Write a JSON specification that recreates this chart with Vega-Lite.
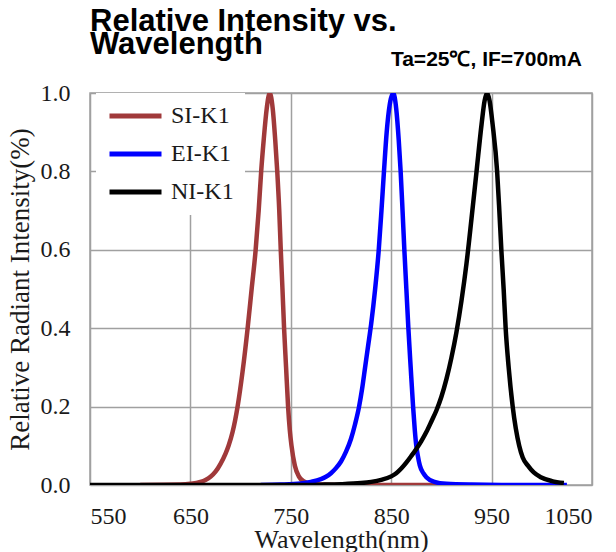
{
  "$schema": "https://vega.github.io/schema/vega-lite/v6.json",
  "width": 502,
  "height": 392,
  "autosize": {"type": "none"},
  "padding": {"left": 90, "top": 93, "right": 24, "bottom": 67},
  "background": "white",
  "title": {
    "text": ["Relative Intensity vs.", "Wavelength"],
    "font": "Liberation Sans",
    "fontSize": 31,
    "fontWeight": "bold",
    "color": "black",
    "anchor": "start",
    "frame": "group",
    "lineHeight": 23,
    "offset": -12
  },
  "config": {
    "view": {"stroke": "#a0a0a0", "strokeWidth": 1.5},
    "axis": {"gridColor": "#a0a0a0", "gridWidth": 1.5, "gridOpacity": 1}
  },
  "layer": [
    {
      "data": {
        "values": [
          {"series": "SI-K1", "wl": 600, "v": 0},
          {"series": "SI-K1", "wl": 640, "v": 0.001},
          {"series": "SI-K1", "wl": 650, "v": 0.003},
          {"series": "SI-K1", "wl": 660, "v": 0.008},
          {"series": "SI-K1", "wl": 665, "v": 0.013},
          {"series": "SI-K1", "wl": 670, "v": 0.021},
          {"series": "SI-K1", "wl": 675, "v": 0.034},
          {"series": "SI-K1", "wl": 680, "v": 0.054},
          {"series": "SI-K1", "wl": 685, "v": 0.08},
          {"series": "SI-K1", "wl": 688, "v": 0.1},
          {"series": "SI-K1", "wl": 692, "v": 0.135},
          {"series": "SI-K1", "wl": 697, "v": 0.2},
          {"series": "SI-K1", "wl": 702, "v": 0.29},
          {"series": "SI-K1", "wl": 707, "v": 0.4},
          {"series": "SI-K1", "wl": 711, "v": 0.5},
          {"series": "SI-K1", "wl": 715, "v": 0.6},
          {"series": "SI-K1", "wl": 718, "v": 0.7},
          {"series": "SI-K1", "wl": 720.5, "v": 0.8},
          {"series": "SI-K1", "wl": 723, "v": 0.88},
          {"series": "SI-K1", "wl": 726, "v": 0.96},
          {"series": "SI-K1", "wl": 729, "v": 1.0},
          {"series": "SI-K1", "wl": 732, "v": 0.96},
          {"series": "SI-K1", "wl": 734.5, "v": 0.88},
          {"series": "SI-K1", "wl": 736.5, "v": 0.8},
          {"series": "SI-K1", "wl": 738.5, "v": 0.7},
          {"series": "SI-K1", "wl": 740, "v": 0.6},
          {"series": "SI-K1", "wl": 741.7, "v": 0.5},
          {"series": "SI-K1", "wl": 743.3, "v": 0.4},
          {"series": "SI-K1", "wl": 745.3, "v": 0.3},
          {"series": "SI-K1", "wl": 747.3, "v": 0.2},
          {"series": "SI-K1", "wl": 749, "v": 0.14},
          {"series": "SI-K1", "wl": 750.7, "v": 0.1},
          {"series": "SI-K1", "wl": 754, "v": 0.05},
          {"series": "SI-K1", "wl": 758, "v": 0.022},
          {"series": "SI-K1", "wl": 763, "v": 0.009},
          {"series": "SI-K1", "wl": 770, "v": 0.003},
          {"series": "SI-K1", "wl": 780, "v": 0.001},
          {"series": "SI-K1", "wl": 800, "v": 0},
          {"series": "SI-K1", "wl": 900, "v": 0},
          {"series": "EI-K1", "wl": 720, "v": 0},
          {"series": "EI-K1", "wl": 740, "v": 0.001},
          {"series": "EI-K1", "wl": 760, "v": 0.004},
          {"series": "EI-K1", "wl": 770, "v": 0.008},
          {"series": "EI-K1", "wl": 780, "v": 0.015},
          {"series": "EI-K1", "wl": 785, "v": 0.021},
          {"series": "EI-K1", "wl": 790, "v": 0.03},
          {"series": "EI-K1", "wl": 795, "v": 0.043},
          {"series": "EI-K1", "wl": 800, "v": 0.06},
          {"series": "EI-K1", "wl": 805, "v": 0.085},
          {"series": "EI-K1", "wl": 810, "v": 0.118},
          {"series": "EI-K1", "wl": 814, "v": 0.155},
          {"series": "EI-K1", "wl": 818, "v": 0.2},
          {"series": "EI-K1", "wl": 821, "v": 0.245},
          {"series": "EI-K1", "wl": 824, "v": 0.3},
          {"series": "EI-K1", "wl": 827, "v": 0.355},
          {"series": "EI-K1", "wl": 830, "v": 0.41},
          {"series": "EI-K1", "wl": 834, "v": 0.5},
          {"series": "EI-K1", "wl": 837.6, "v": 0.6},
          {"series": "EI-K1", "wl": 840.3, "v": 0.7},
          {"series": "EI-K1", "wl": 842.8, "v": 0.8},
          {"series": "EI-K1", "wl": 845.5, "v": 0.9},
          {"series": "EI-K1", "wl": 848.5, "v": 0.97},
          {"series": "EI-K1", "wl": 852, "v": 1.0},
          {"series": "EI-K1", "wl": 855, "v": 0.96},
          {"series": "EI-K1", "wl": 857.5, "v": 0.88},
          {"series": "EI-K1", "wl": 859.4, "v": 0.8},
          {"series": "EI-K1", "wl": 861.3, "v": 0.7},
          {"series": "EI-K1", "wl": 863.1, "v": 0.6},
          {"series": "EI-K1", "wl": 865.1, "v": 0.5},
          {"series": "EI-K1", "wl": 867.1, "v": 0.4},
          {"series": "EI-K1", "wl": 869.4, "v": 0.3},
          {"series": "EI-K1", "wl": 871.8, "v": 0.2},
          {"series": "EI-K1", "wl": 873.5, "v": 0.14},
          {"series": "EI-K1", "wl": 875, "v": 0.1},
          {"series": "EI-K1", "wl": 876.5, "v": 0.075},
          {"series": "EI-K1", "wl": 878.5, "v": 0.05},
          {"series": "EI-K1", "wl": 882, "v": 0.03},
          {"series": "EI-K1", "wl": 885, "v": 0.02},
          {"series": "EI-K1", "wl": 893, "v": 0.008},
          {"series": "EI-K1", "wl": 905, "v": 0.003},
          {"series": "EI-K1", "wl": 930, "v": 0.001},
          {"series": "EI-K1", "wl": 960, "v": 0.0003},
          {"series": "EI-K1", "wl": 1025, "v": 0},
          {"series": "NI-K1", "wl": 550, "v": 0},
          {"series": "NI-K1", "wl": 750, "v": 0},
          {"series": "NI-K1", "wl": 780, "v": 0.0008},
          {"series": "NI-K1", "wl": 800, "v": 0.002},
          {"series": "NI-K1", "wl": 820, "v": 0.005},
          {"series": "NI-K1", "wl": 830, "v": 0.008},
          {"series": "NI-K1", "wl": 840, "v": 0.013},
          {"series": "NI-K1", "wl": 850, "v": 0.022},
          {"series": "NI-K1", "wl": 855, "v": 0.03},
          {"series": "NI-K1", "wl": 860, "v": 0.042},
          {"series": "NI-K1", "wl": 865, "v": 0.057},
          {"series": "NI-K1", "wl": 870, "v": 0.074},
          {"series": "NI-K1", "wl": 875, "v": 0.092},
          {"series": "NI-K1", "wl": 880, "v": 0.112},
          {"series": "NI-K1", "wl": 885, "v": 0.135},
          {"series": "NI-K1", "wl": 890, "v": 0.162},
          {"series": "NI-K1", "wl": 895, "v": 0.19},
          {"series": "NI-K1", "wl": 900, "v": 0.225},
          {"series": "NI-K1", "wl": 905, "v": 0.27},
          {"series": "NI-K1", "wl": 910, "v": 0.325},
          {"series": "NI-K1", "wl": 915, "v": 0.39},
          {"series": "NI-K1", "wl": 920, "v": 0.47},
          {"series": "NI-K1", "wl": 925, "v": 0.565},
          {"series": "NI-K1", "wl": 930, "v": 0.68},
          {"series": "NI-K1", "wl": 935, "v": 0.8},
          {"series": "NI-K1", "wl": 940, "v": 0.92},
          {"series": "NI-K1", "wl": 943, "v": 0.98},
          {"series": "NI-K1", "wl": 945.5, "v": 1.0},
          {"series": "NI-K1", "wl": 948, "v": 0.98},
          {"series": "NI-K1", "wl": 951, "v": 0.92},
          {"series": "NI-K1", "wl": 955.5, "v": 0.8},
          {"series": "NI-K1", "wl": 957.7, "v": 0.7},
          {"series": "NI-K1", "wl": 959.7, "v": 0.6},
          {"series": "NI-K1", "wl": 962, "v": 0.5},
          {"series": "NI-K1", "wl": 964, "v": 0.4},
          {"series": "NI-K1", "wl": 967, "v": 0.3},
          {"series": "NI-K1", "wl": 971, "v": 0.2},
          {"series": "NI-K1", "wl": 977.5, "v": 0.1},
          {"series": "NI-K1", "wl": 981, "v": 0.07},
          {"series": "NI-K1", "wl": 986, "v": 0.05},
          {"series": "NI-K1", "wl": 992, "v": 0.032},
          {"series": "NI-K1", "wl": 999, "v": 0.02},
          {"series": "NI-K1", "wl": 1010, "v": 0.01},
          {"series": "NI-K1", "wl": 1022, "v": 0.005}
        ]
      },
      "mark": {"type": "line", "strokeWidth": 4.5, "interpolate": "monotone", "clip": true},
      "encoding": {
        "x": {
          "field": "wl",
          "type": "quantitative",
          "scale": {"domain": [550, 1050], "nice": false, "zero": false},
          "axis": {
            "values": [550, 650, 750, 850, 950, 1050],
            "format": "d",
            "grid": true,
            "ticks": false,
            "domain": false,
            "labelFont": "Liberation Serif",
            "labelFontSize": 24,
            "labelColor": "#1a1a1a",
            "labelPadding": 19,
            "title": "Wavelength(nm)",
            "titleFont": "Liberation Serif",
            "titleFontSize": 26,
            "titleFontWeight": "normal",
            "titleColor": "#1a1a1a",
            "titlePadding": -2
          }
        },
        "y": {
          "field": "v",
          "type": "quantitative",
          "scale": {"domain": [0, 1], "nice": false},
          "axis": {
            "values": [0, 0.2, 0.4, 0.6, 0.8, 1.0],
            "format": ".1f",
            "grid": true,
            "ticks": false,
            "domain": false,
            "labelFont": "Liberation Serif",
            "labelFontSize": 24,
            "labelColor": "#1a1a1a",
            "labelPadding": 20,
            "title": "Relative Radiant Intensity(%)",
            "titleFont": "Liberation Serif",
            "titleFontSize": 27,
            "titleFontWeight": "normal",
            "titleColor": "#1a1a1a",
            "titlePadding": 6
          }
        },
        "color": {
          "field": "series",
          "type": "nominal",
          "scale": {"domain": ["SI-K1", "EI-K1", "NI-K1"], "range": ["#A0393A", "#0000FF", "#000000"]},
          "legend": {
            "orient": "none",
            "legendX": 6,
            "legendY": 0,
            "title": null,
            "symbolType": "stroke",
            "symbolSize": 2704,
            "symbolStrokeWidth": 5,
            "clipHeight": 24,
            "rowPadding": 14,
            "labelFont": "Liberation Serif",
            "labelFontSize": 24,
            "labelColor": "#1a1a1a",
            "labelOffset": 7,
            "padding": 11,
            "fillColor": "white"
          }
        }
      }
    },
    {
      "data": {"values": [{"label": "Ta=25℃, IF=700mA"}]},
      "mark": {
        "type": "text",
        "align": "right",
        "baseline": "alphabetic",
        "font": "Liberation Sans",
        "fontSize": 21,
        "fontWeight": "bold",
        "color": "black",
        "clip": false
      },
      "encoding": {
        "x": {"datum": 1040, "type": "quantitative"},
        "y": {"datum": 1.07, "type": "quantitative"},
        "text": {"field": "label"}
      }
    }
  ]
}
